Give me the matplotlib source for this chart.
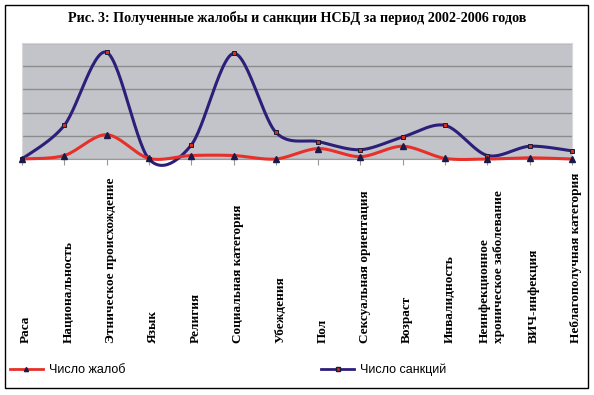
import numpy as np
import matplotlib
matplotlib.use("Agg")
import matplotlib.pyplot as plt
import matplotlib.transforms as mtransforms
from matplotlib.lines import Line2D
from matplotlib.patches import Rectangle

categories = ["Раса", "Национальность", "Этническое происхождение", "Язык", "Религия",
              "Социальная категория", "Убеждения", "Пол", "Сексуальная ориентация",
              "Возраст", "Инвалидность", "Неинфекционное\nхроническое заболевание",
              "ВИЧ-инфекция", "Неблагополучная категория"]
sanctions = [0, 29, 92, 0, 12, 91, 23, 15, 8, 19, 29, 3, 11, 7]
complaints = [0, 3, 21, 0.5, 3, 3, 0, 9, 2, 11, 0.5, 0, 1, 0]
series_names = ["Число жалоб", "Число санкций"]
title = "Рис. 3: Полученные жалобы и санкции НСБД за период 2002-2006 годов"


def smooth(y, n=30, k=6.5):
    """Cardinal-spline smoothing through the data points (like Excel smoothed lines)."""
    y = np.asarray(y, float)
    x = np.arange(len(y), dtype=float)
    P = np.column_stack([x, y])
    P = np.vstack([P[0], P, P[-1]])
    out = []
    for i in range(1, len(P) - 2):
        p0, p1, p2, p3 = P[i - 1], P[i], P[i + 1], P[i + 2]
        t = np.linspace(0, 1, n)[:, None]
        c1 = p1 + (p2 - p0) / k
        c2 = p2 - (p3 - p1) / k
        seg = ((1 - t) ** 3) * p1 + 3 * ((1 - t) ** 2) * t * c1 + 3 * (1 - t) * t ** 2 * c2 + t ** 3 * p2
        out.append(seg if i == 1 else seg[1:])
    s = np.vstack(out)
    return s[:, 0], s[:, 1]


fig = plt.figure(figsize=(5.94, 3.95), dpi=100)
fig.patch.set_facecolor("white")
fig.add_artist(Rectangle((5 / 594, 1 - 388 / 395), 583 / 594, 383 / 395,
                         transform=fig.transFigure, fill=False, edgecolor="black", lw=1))

ax = fig.add_axes([22 / 594, 1 - 159 / 395, 550 / 594, 116 / 395])
ax.set_facecolor("#c3c4c9")
ax.set_xlim(0, len(categories) - 1)
ax.set_ylim(0, 100)
ax.set_yticks(np.arange(0, 101, 20))
ax.yaxis.grid(True, color="#8c8c8c", lw=1)
ax.set_axisbelow(True)
ax.tick_params(axis="y", left=False, labelleft=False)
ax.set_xticks(np.arange(len(categories)))
ax.tick_params(axis="x", direction="out", length=4, color="#999999", labelbottom=False)
for s in ["left", "right", "top"]:
    ax.spines[s].set_color("#d8d8d8")
ax.spines["bottom"].set_color("#999999")

x = np.arange(len(categories))
bx, by = smooth(sanctions)
ax.plot(bx, by, color="#2b1f7a", lw=2.2, clip_on=False, zorder=3)
rx, ry = smooth(complaints)
ax.plot(rx, ry, color="#e8302a", lw=2.2, clip_on=False, zorder=4)
ax.plot(x, sanctions, ls="none", marker="s", ms=3, mfc="#d03020", mec="#1a1a3a", mew=0.7,
        clip_on=False, zorder=5)
ax.plot(x, complaints, ls="none", marker="^", ms=5, mfc="#1a1a4a", mec="#1a1a4a",
        clip_on=False, zorder=5)

tr = mtransforms.blended_transform_factory(ax.transData, fig.transFigure)
for i, lab in enumerate(categories):
    ax.text(i + 0.1, 1 - 343 / 395, lab, rotation=90, ha="center", va="bottom",
            transform=tr, family="Liberation Serif", fontweight="bold", fontsize=9.5,
            multialignment="left", linespacing=1.3)

fig.text(0.5, 1 - 18 / 395, title, ha="center", va="center",
         family="Liberation Serif", fontweight="bold", fontsize=10.2)

handles = [Line2D([], [], color="#e8302a", lw=2, marker="^", ms=3, mfc="#1a1a4a", mec="#1a1a4a"),
           Line2D([], [], color="#2b1f7a", lw=2, marker="s", ms=2.5, mfc="#d03020", mec="#1a1a3a")]
fig.legend(handles, series_names, loc="center left", bbox_to_anchor=(10 / 594, 1 - 370 / 395),
           ncol=2, frameon=False, handlelength=2.6, handletextpad=0.5, columnspacing=15.7,
           borderaxespad=0, borderpad=0,
           prop={"family": "Liberation Sans", "size": 9})

fig.savefig("out.png", dpi=100)
